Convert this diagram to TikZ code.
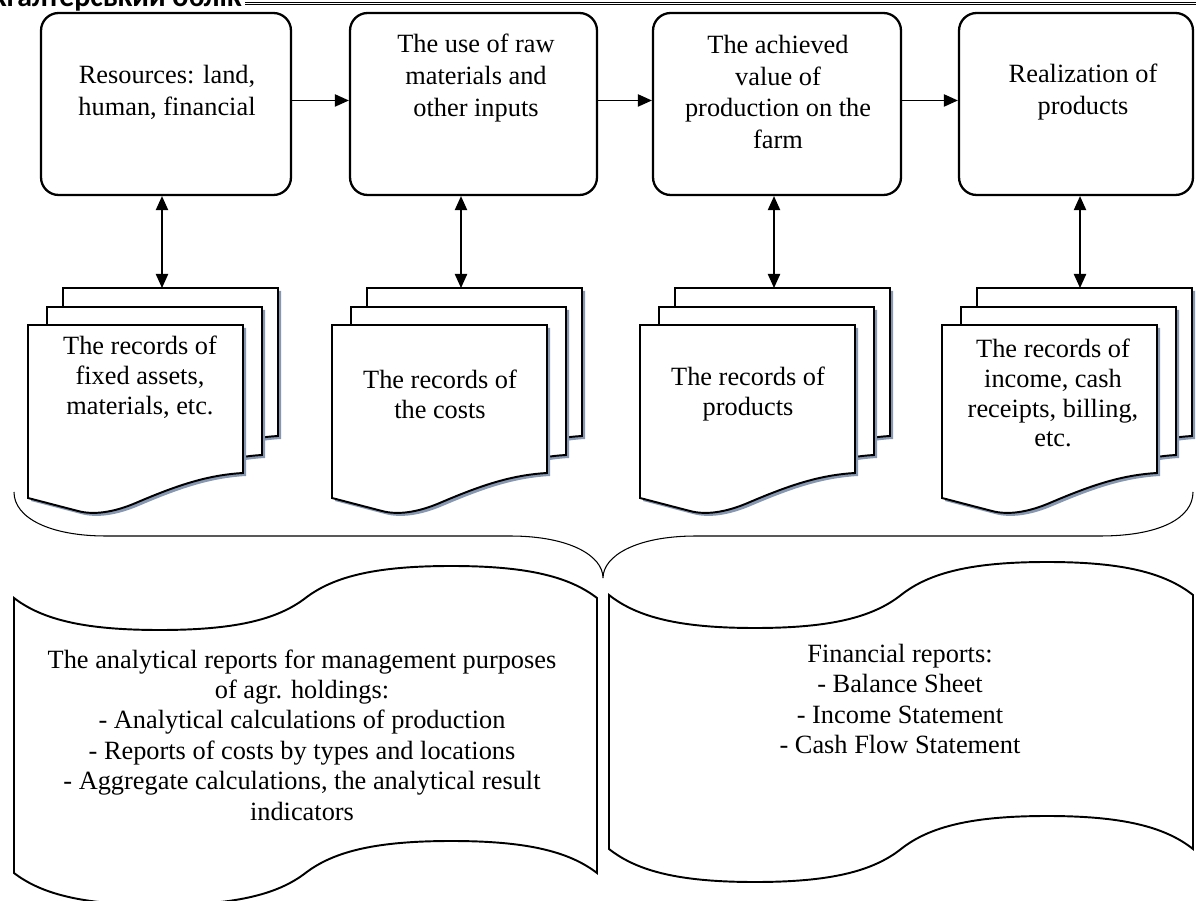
\documentclass[tikz,border=0pt]{standalone}
\usepackage{fontspec}
\setmainfont{Liberation Serif}
\newfontfamily\hdfont{Carlito}
\usetikzlibrary{arrows.meta}

\definecolor{shadowc}{RGB}{134,151,178}

% one sheet of a document stack, origin at its top left corner
\newcommand{\pagepath}{(0,0) -- (215,0) -- (215,148) .. controls (180,150) and (150,160) .. (110,177) .. controls (85,188) and (65,190) .. (50,186) -- (0,173) -- cycle}

% wavy report sheet: left x, right x, top y, bottom y, wave height
\newcommand{\scrollshape}[5]{%
  \pgfmathsetmacro{\sq}{(#2-#1)/4}%
  \draw[line width=1.1pt]
    (#1,#3) .. controls ({#1+0.2*\sq},{#3+0.7*#5}) and ({#1+0.5*\sq},{#3+#5}) .. ({#1+\sq},{#3+#5})
    .. controls ({#1+1.5*\sq},{#3+#5}) and ({#1+1.8*\sq},{#3+0.7*#5}) .. ({#1+2*\sq},#3)
    .. controls ({#1+2.2*\sq},{#3-0.7*#5}) and ({#1+2.5*\sq},{#3-#5}) .. ({#1+3*\sq},{#3-#5})
    .. controls ({#1+3.5*\sq},{#3-#5}) and ({#1+3.8*\sq},{#3-0.7*#5}) .. (#2,#3)
    -- (#2,#4)
    .. controls ({#1+3.8*\sq},{#4-0.7*#5}) and ({#1+3.5*\sq},{#4-#5}) .. ({#1+3*\sq},{#4-#5})
    .. controls ({#1+2.5*\sq},{#4-#5}) and ({#1+2.2*\sq},{#4-0.7*#5}) .. ({#1+2*\sq},#4)
    .. controls ({#1+1.8*\sq},{#4+0.7*#5}) and ({#1+1.5*\sq},{#4+#5}) .. ({#1+\sq},{#4+#5})
    .. controls ({#1+0.5*\sq},{#4+#5}) and ({#1+0.2*\sq},{#4+0.7*#5}) .. (#1,#4)
    -- cycle;}

\begin{document}
\begin{tikzpicture}[x=0.02cm, y=-0.02cm,
    topbox/.style={draw, rounded corners=10pt, line width=1.3pt, minimum height=3.64cm, inner sep=0pt},
    boxtext/.style={align=center, inner sep=0pt, font=\fontsize{15}{18.2}\selectfont},
    rectext/.style={align=center, inner sep=0pt, font=\fontsize{15}{17}\selectfont},
    reptext/.style={align=center, inner sep=0pt, font=\fontsize{15}{17.3}\selectfont},
    arr/.style={-{Triangle[length=8pt,width=7pt]}, line width=0.8pt},
    dbl/.style={{Triangle[length=8pt,width=7pt]}-{Triangle[length=8pt,width=7pt]}, line width=0.8pt},
    page/.pic={
      \fill[shadowc, shift={(3,3)}] \pagepath;
      \filldraw[fill=white, line width=1.1pt] \pagepath;
    },
    stack/.pic={
      \pic at (35,-37) {page};
      \pic at (19,-18) {page};
      \pic at (0,0) {page};
      \coordinate (-top) at (142.5,-37);
    }]
    \useasboundingbox (0,0) rectangle (1196,901);
    \fill[white] (0,0) rectangle (1196,901);

    % running head
    \node[anchor=base east, inner sep=0pt, font=\hdfont\bfseries\fontsize{17}{20}\selectfont] (hdr) at (242,7) {Бухгалтерський облік};
    \draw[line width=0.9pt] (245,2.5) -- (1196,2.5);
    \draw[line width=0.5pt] (245,4.9) -- (1196,4.9);

    % stages
    \node[topbox, minimum width=5cm] (res) at (166,104) {};
    \node[topbox, minimum width=4.94cm] (use) at (473.5,104) {};
    \node[topbox, minimum width=4.96cm] (val) at (777,104) {};
    \node[topbox, minimum width=4.68cm] (real) at (1076,104) {};
    \node[boxtext] (restxt) at (167,92) {Resources: land,\\human, financial};
    \node[boxtext] (usetxt) at (476,78) {The use of raw\\materials and\\other inputs};
    \node[boxtext] (valtxt) at (778,92) {The achieved\\value of\\production on the\\farm};
    \node[boxtext] (realtxt) at (1083,92) {Realization of\\products};

    \draw[arr] ([yshift=2pt]res.east) -- ([yshift=2pt]use.west);
    \draw[arr] ([yshift=2pt]use.east) -- ([yshift=2pt]val.west);
    \draw[arr] ([yshift=2pt]val.east) -- ([yshift=2pt]real.west);

    % records
    \pic (st1) at (28,325) {stack};
    \pic (st2) at (332,325) {stack};
    \pic (st3) at (640,325) {stack};
    \pic (st4) at (942,325) {stack};
    \node[rectext] (rec1) at (140,377) {The records of\\fixed assets,\\materials, etc.};
    \node[rectext] (rec2) at (440,394) {The records of\\the costs};
    \node[rectext] (rec3) at (748,394) {The records of\\products};
    \node[rectext] (rec4) at (1053,393) {The records of\\income, cash\\receipts, billing,\\etc.};

    \coordinate (ax1) at (162,0);
    \coordinate (ax2) at (461,0);
    \coordinate (ax3) at (774,0);
    \coordinate (ax4) at (1080,0);
    \draw[dbl] (res.south -| ax1) -- (st1-top -| ax1);
    \draw[dbl] (use.south -| ax2) -- (st2-top -| ax2);
    \draw[dbl] (val.south -| ax3) -- (st3-top -| ax3);
    \draw[dbl] (real.south -| ax4) -- (st4-top -| ax4);

    % brace
    \draw[line width=0.6pt] (14,492) .. controls (14,518) and (50,536) .. (106,536) -- (510,536)
      .. controls (570,536) and (603,556) .. (603,578)
      .. controls (603,556) and (636,536) .. (696,536) -- (1100,536)
      .. controls (1160,536) and (1193,518) .. (1193,492);

    % reports
    \scrollshape{14}{597}{598}{873}{32}
    \scrollshape{609}{1193}{595}{849}{33}
    \node[reptext] (mgmt) at (302,735) {The analytical reports for management purposes\\of agr. holdings:\\- Analytical calculations of production\\- Reports of costs by types and locations\\- Aggregate calculations, the analytical result\\indicators};
    \node[reptext] (fin) at (900,699) {Financial reports:\\- Balance Sheet\\- Income Statement\\- Cash Flow Statement};
\end{tikzpicture}
\end{document}
